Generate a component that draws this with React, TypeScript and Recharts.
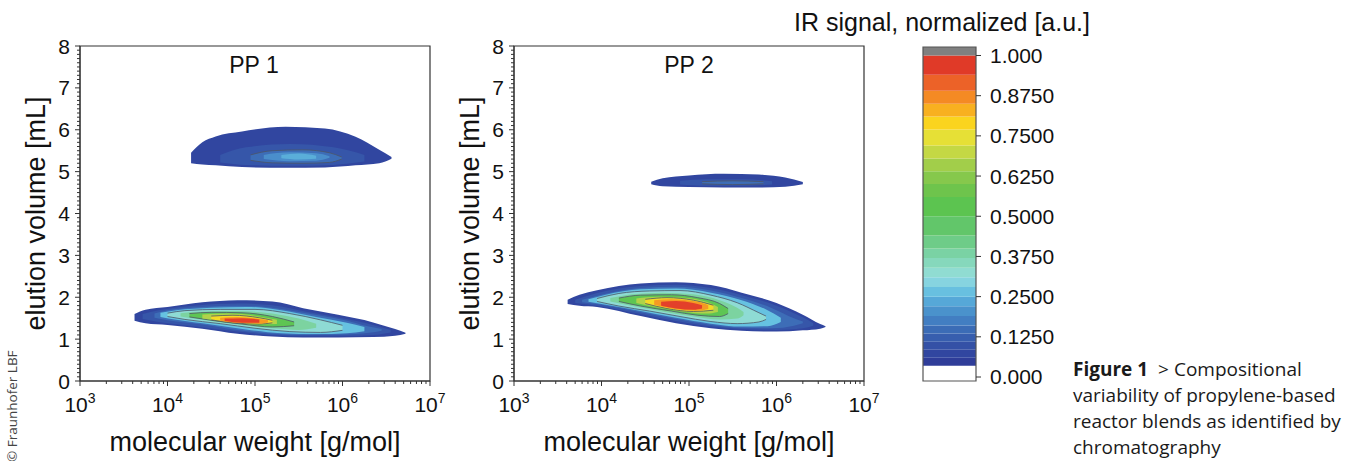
import { ComposedChart, Area, XAxis, YAxis, ReferenceArea } from "recharts";

const FONT = '"Liberation Sans", Arial, Helvetica, sans-serif';
const INK = "#111";
const AXIS = "#333";
const TM = 10; // tick margin

// contour levels: [molecular weight g/mol, elution volume low mL, high mL]
type Pt = [number, number, number];

const pp1Lower: Pt[][] = [
  [[4.2e3, 1.44, 1.6], [5.6e3, 1.38, 1.7], [1e4, 1.34, 1.77], [2.5e4, 1.25, 1.88], [6.3e4, 1.13, 1.93], [1.58e5, 1.06, 1.9], [3.55e5, 1.04, 1.74], [8.9e5, 1.04, 1.58], [2.24e6, 1.05, 1.4], [4e6, 1.08, 1.24], [5.25e6, 1.13, 1.15]],
  [[5.2e3, 1.48, 1.6], [7.9e3, 1.41, 1.69], [2e4, 1.31, 1.8], [6.3e4, 1.18, 1.85], [1.58e5, 1.1, 1.81], [4e5, 1.08, 1.65], [1e6, 1.08, 1.5], [2.24e6, 1.1, 1.34], [3.55e6, 1.16, 1.22]],
  [[7.1e3, 1.51, 1.61], [1e4, 1.45, 1.69], [2.5e4, 1.35, 1.77], [6.3e4, 1.22, 1.8], [1.58e5, 1.13, 1.75], [4e5, 1.1, 1.61], [1e6, 1.11, 1.46], [2e6, 1.15, 1.3], [2.8e6, 1.2, 1.24]],
  [[8.3e3, 1.53, 1.63], [1.26e4, 1.46, 1.69], [3.16e4, 1.35, 1.75], [7.9e4, 1.23, 1.77], [2e5, 1.14, 1.69], [5e5, 1.12, 1.53], [1.12e6, 1.14, 1.39], [1.78e6, 1.19, 1.29]],
  [[1e4, 1.54, 1.62], [1.58e4, 1.47, 1.68], [4e4, 1.37, 1.71], [1e5, 1.26, 1.71], [2.5e5, 1.18, 1.61], [5.6e5, 1.16, 1.46], [1e6, 1.21, 1.33]],
  [[1.41e4, 1.54, 1.62], [2.5e4, 1.46, 1.66], [6.3e4, 1.35, 1.67], [1.58e5, 1.26, 1.61], [3.16e5, 1.22, 1.49], [5e5, 1.27, 1.37]],
  [[1.78e4, 1.53, 1.61], [3.16e4, 1.45, 1.64], [7.1e4, 1.36, 1.63], [1.58e5, 1.29, 1.54], [2.8e5, 1.32, 1.41]],
  [[2.5e4, 1.49, 1.59], [5e4, 1.41, 1.61], [1e5, 1.35, 1.56], [1.78e5, 1.36, 1.46]],
  [[3.16e4, 1.46, 1.55], [5.6e4, 1.39, 1.57], [1.12e5, 1.36, 1.51], [1.58e5, 1.39, 1.45]],
  [[4e4, 1.44, 1.51], [6.3e4, 1.39, 1.53], [1.12e5, 1.37, 1.48], [1.41e5, 1.4, 1.45]],
  [[4.5e4, 1.43, 1.49], [7.1e4, 1.39, 1.5], [1.12e5, 1.39, 1.47]],
];

const pp1Upper: Pt[][] = [
  [[1.86e4, 5.2, 5.45], [2.5e4, 5.17, 5.7], [3.55e4, 5.15, 5.84], [7.1e4, 5.11, 5.96], [2.24e5, 5.09, 6.07], [6.3e5, 5.1, 6.03], [1.41e6, 5.15, 5.83], [2.63e6, 5.2, 5.52], [3.63e6, 5.31, 5.35]],
  [[4e4, 5.22, 5.4], [7.9e4, 5.16, 5.58], [2.5e5, 5.14, 5.66], [7.9e5, 5.16, 5.58], [1.78e6, 5.24, 5.4]],
  [[8.9e4, 5.27, 5.4], [1.58e5, 5.21, 5.5], [3.55e5, 5.2, 5.52], [7.1e5, 5.22, 5.45], [9.8e5, 5.3, 5.35]],
  [[1.26e5, 5.3, 5.4], [2.5e5, 5.25, 5.46], [5e5, 5.26, 5.44], [7.1e5, 5.33, 5.37]],
  [[2e5, 5.32, 5.4], [3.16e5, 5.29, 5.43], [5e5, 5.31, 5.38]],
];

const pp2Upper: Pt[][] = [
  [[3.7e4, 4.7, 4.76], [5e4, 4.65, 4.84], [1e5, 4.63, 4.91], [2.5e5, 4.62, 4.95], [6.3e5, 4.62, 4.93], [1.26e6, 4.64, 4.86], [2e6, 4.7, 4.75]],
  [[7.9e4, 4.69, 4.78], [1.58e5, 4.66, 4.82], [4e5, 4.66, 4.82], [8.9e5, 4.69, 4.77]],
  [[1.41e5, 4.71, 4.76], [3.16e5, 4.69, 4.78], [7.1e5, 4.71, 4.76]],
];

const pp2Lower: Pt[][] = [
  [[4.1e3, 1.84, 1.94], [5.6e3, 1.8, 2.06], [8.9e3, 1.77, 2.17], [2.8e4, 1.55, 2.33], [7.1e4, 1.38, 2.36], [1.78e5, 1.26, 2.29], [4e5, 1.2, 2.11], [1e6, 1.18, 1.86], [2e6, 1.21, 1.58], [3.16e6, 1.25, 1.36], [3.63e6, 1.29, 1.31]],
  [[5e3, 1.86, 1.94], [8.9e3, 1.8, 2.1], [2.8e4, 1.6, 2.27], [7.1e4, 1.43, 2.3], [1.78e5, 1.3, 2.22], [4e5, 1.24, 2.05], [1e6, 1.22, 1.8], [2e6, 1.26, 1.52], [2.63e6, 1.32, 1.38]],
  [[6e3, 1.88, 1.94], [1e4, 1.82, 2.06], [2.8e4, 1.64, 2.22], [7.1e4, 1.48, 2.25], [1.78e5, 1.34, 2.16], [4e5, 1.27, 1.98], [8.9e5, 1.26, 1.74], [1.58e6, 1.32, 1.5], [2e6, 1.38, 1.42]],
  [[7.1e3, 1.89, 1.95], [1.12e4, 1.82, 2.06], [2.8e4, 1.67, 2.19], [7.1e4, 1.51, 2.21], [1.78e5, 1.37, 2.11], [4e5, 1.3, 1.93], [7.9e5, 1.31, 1.69], [1.12e6, 1.41, 1.51]],
  [[8.9e3, 1.9, 1.97], [1.58e4, 1.79, 2.09], [3.55e4, 1.67, 2.15], [7.9e4, 1.54, 2.16], [1.78e5, 1.42, 2.05], [3.55e5, 1.37, 1.87], [6.3e5, 1.41, 1.63], [7.6e5, 1.47, 1.55]],
  [[1.26e4, 1.9, 1.98], [2.24e4, 1.79, 2.07], [5e4, 1.66, 2.11], [1.12e5, 1.54, 2.07], [2.24e5, 1.47, 1.93], [3.55e5, 1.49, 1.75], [4.2e5, 1.57, 1.65]],
  [[1.58e4, 1.9, 1.98], [2.8e4, 1.79, 2.05], [6.3e4, 1.67, 2.06], [1.26e5, 1.57, 1.99], [2.24e5, 1.54, 1.85], [2.8e5, 1.61, 1.73]],
  [[2.5e4, 1.86, 1.97], [4.5e4, 1.75, 2.01], [8.9e4, 1.65, 1.99], [1.58e5, 1.61, 1.89], [2.14e5, 1.65, 1.77]],
  [[3.16e4, 1.85, 1.95], [5.6e4, 1.73, 1.99], [1.12e5, 1.66, 1.93], [1.9e5, 1.69, 1.81]],
  [[4e4, 1.82, 1.93], [6.3e4, 1.73, 1.95], [1.26e5, 1.68, 1.89], [1.66e5, 1.72, 1.81]],
  [[4.8e4, 1.8, 1.89], [7.1e4, 1.73, 1.91], [1.12e5, 1.7, 1.86], [1.41e5, 1.73, 1.81]],
];

// fill per level (outer -> inner)
const mainFills = ["#3146a0", "#3656a9", "#3d6db7", "#66c2e1", "#8edbd4", "#7cd3a0", "#5ec553", "#b0d24a", "#f4da26", "#f59a23", "#e3402a"];
const mainLines = [4, 6, 8];
const peakFills = ["#3146a0", "#3656a9", "#3d6db7", "#4a8ecb", "#5aaed9"];
const peakLines = [2];

// axes
const xMajor = [1e3, 1e4, 1e5, 1e6, 1e7];
const xMinor = xMajor.slice(0, -1).flatMap((d) => [2, 3, 4, 5, 6, 7, 8, 9].map((k) => k * d));
const xTicks = [...xMajor, ...xMinor].sort((a, b) => a - b);
const yTicks = Array.from({ length: 81 }, (_, i) => i / 10);

// colour bar
const barTicks = [0, 0.125, 0.25, 0.375, 0.5, 0.625, 0.75, 0.875, 1];
const barLevels = [0.035, 0.06, 0.085, 0.11, 0.135, 0.16, 0.19, 0.22, 0.25, 0.28, 0.31, 0.34, 0.37, 0.4, 0.44, 0.5, 0.56, 0.6, 0.64, 0.68, 0.72, 0.77, 0.81, 0.85, 0.89, 0.94, 1.0];
const barColors = ["#2f3d99", "#3146a0", "#3451a6", "#375eae", "#3b6cb6", "#427ec2", "#4a92cc", "#56a8d8", "#68c0e0", "#86d4e0", "#90dcd2", "#86d8bc", "#7ad2a4", "#6ecc88", "#62c66a", "#5cc450", "#6ec44c", "#86c84c", "#a2ce4a", "#c4d844", "#e6e036", "#fad41e", "#f8b020", "#f48a24", "#ec6228", "#e03a28"];

const XTick = ({ x, y, payload }: any) => {
  const v = payload.value;
  const major = xMajor.includes(v);
  const ay = y - TM;
  return (
    <g>
      <line x1={x} x2={x} y1={ay} y2={ay + (major ? 5 : 3)} stroke={AXIS} />
      {major && (
        <text x={x} y={ay + 31} textAnchor="middle" fontSize={21} fill={INK}>
          <tspan>10</tspan>
          <tspan dy={-9} fontSize={14}>{Math.round(Math.log10(v))}</tspan>
        </text>
      )}
    </g>
  );
};

const YTick = ({ x, y, payload }: any) => {
  const v = payload.value;
  const major = Math.abs(v - Math.round(v)) < 1e-6;
  const ax = x + TM;
  return (
    <g>
      <line x1={ax} x2={ax - (major ? 5 : 3)} y1={y} y2={y} stroke={AXIS} />
      {major && (
        <text x={ax - 10} y={y} dy="0.36em" textAnchor="end" fontSize={21} fill={INK}>
          {Math.round(v)}
        </text>
      )}
    </g>
  );
};

function contours(id: string, levels: Pt[][], fills: string[], lines: number[]) {
  return levels.map((lvl, i) => (
    <Area
      key={`${id}-${i}`}
      data={lvl.map(([m, lo, hi]) => ({ m, v: [lo, hi] }))}
      dataKey="v"
      type="monotone"
      fill={fills[i]}
      fillOpacity={1}
      stroke={lines.includes(i) ? "#4d5666" : "none"}
      strokeWidth={0.8}
      dot={false}
      activeDot={false}
      isAnimationActive={false}
    />
  ));
}

function Panel({ lower, upper, upperFills, upperLines }: { lower: Pt[][]; upper: Pt[][]; upperFills: string[]; upperLines: number[] }) {
  return (
    <ComposedChart width={462} height={461} margin={{ top: 46, right: 32, bottom: 0, left: 0 }}>
      <XAxis
        dataKey="m"
        type="number"
        scale="log"
        domain={[1e3, 1e7]}
        allowDataOverflow
        ticks={xTicks}
        interval={0}
        tickSize={0}
        tickMargin={TM}
        tickLine={false}
        tick={(p: any) => <XTick {...p} />}
        axisLine={{ stroke: AXIS }}
        height={80}
        label={{ value: "molecular weight [g/mol]", position: "insideBottom", offset: 10, fontSize: 27, fill: INK }}
      />
      <YAxis
        type="number"
        domain={[0, 8]}
        allowDataOverflow
        ticks={yTicks}
        interval={0}
        tickSize={0}
        tickMargin={TM}
        tickLine={false}
        tick={(p: any) => <YTick {...p} />}
        axisLine={{ stroke: AXIS }}
        width={80}
        label={{ value: "elution volume [mL]", angle: -90, position: "insideLeft", offset: 35, fontSize: 27, fill: INK, style: { textAnchor: "middle" } }}
      />
      {contours("up", upper, upperFills, upperLines)}
      {contours("low", lower, mainFills, mainLines)}
      <ReferenceArea x1={1e3} x2={1e7} y1={0} y2={8} fill="none" stroke={AXIS} strokeWidth={1.2} ifOverflow="visible" />
    </ComposedChart>
  );
}

function ColorBar() {
  const fmt = (v: number) => (v === 0 || v === 1 ? v.toFixed(3) : v.toFixed(4));
  return (
    <ComposedChart width={160} height={461} margin={{ top: 47, right: 0, bottom: 80, left: 23 }} data={[{ x: 0 }, { x: 1 }]}>
      <XAxis dataKey="x" type="number" domain={[0, 1]} hide />
      <YAxis
        orientation="right"
        type="number"
        domain={[-0.0124, 1.0264]}
        allowDataOverflow
        ticks={barTicks}
        interval={0}
        tickSize={5}
        tickMargin={9}
        tickFormatter={fmt}
        axisLine={false}
        tickLine={{ stroke: AXIS }}
        tick={{ fontSize: 21, fill: INK }}
        width={84}
      />
      <ReferenceArea y1={-0.0124} y2={barLevels[0]} fill="#fff" fillOpacity={1} stroke="none" />
      {barColors.map((c, i) => (
        <ReferenceArea key={i} y1={barLevels[i]} y2={barLevels[i + 1]} fill={c} fillOpacity={1} stroke="none" />
      ))}
      <ReferenceArea y1={1} y2={1.0264} fill="#808080" fillOpacity={1} stroke="none" />
      <ReferenceArea y1={-0.0124} y2={1.0264} fill="none" stroke="#555" strokeWidth={1.2} ifOverflow="visible" />
    </ComposedChart>
  );
}

export default function App() {
  return (
    <div style={{ position: "absolute", left: 0, top: 0, width: 1359, height: 461, background: "#fff", fontFamily: FONT, overflow: "hidden" }}>
      <div style={{ position: "absolute", left: 0, top: 0 }}>
        <Panel lower={pp1Lower} upper={pp1Upper} upperFills={peakFills} upperLines={peakLines} />
      </div>
      <div style={{ position: "absolute", left: 434, top: 0 }}>
        <Panel lower={pp2Lower} upper={pp2Upper} upperFills={peakFills} upperLines={peakLines} />
      </div>
      <div style={{ position: "absolute", left: 900, top: 0 }}>
        <ColorBar />
      </div>
      <svg width={1359} height={461} style={{ position: "absolute", left: 0, top: 0, pointerEvents: "none" }}>
        <text x={254} y={73} textAnchor="middle" fontSize={23} fill={INK}>PP 1</text>
        <text x={689} y={73} textAnchor="middle" fontSize={23} fill={INK}>PP 2</text>
        <text x={1090} y={31} textAnchor="end" fontSize={25} fill={INK}>IR signal, normalized [a.u.]</text>
        <g fontFamily='"Open Sans", "Noto Sans", sans-serif' fontSize={19} fill="#1a1a1a">
          <text x={1073} y={376}>
            <tspan fontWeight="bold">Figure 1</tspan>
            <tspan dx={10}>{"> Compositional"}</tspan>
          </text>
          <text x={1073} y={402}>variability of propylene-based</text>
          <text x={1073} y={428}>reactor blends as identified by</text>
          <text x={1073} y={454}>chromatography</text>
        </g>
        <text x={17} y={462} transform="rotate(-90 17 462)" fontFamily='"Open Sans", "Noto Sans", sans-serif' fontSize={13.5} fill="#444">
          © Fraunhofer LBF
        </text>
      </svg>
    </div>
  );
}
